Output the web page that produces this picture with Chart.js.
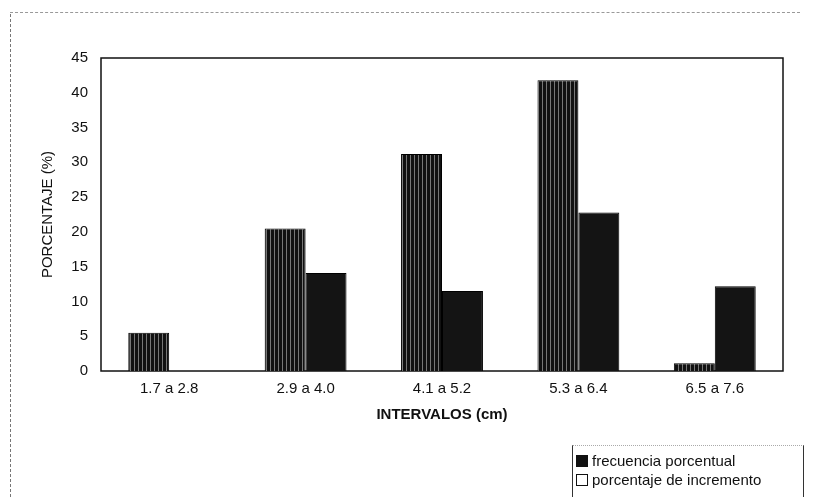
<!DOCTYPE html>
<html>
<head>
<meta charset="utf-8">
<script src="https://cdn.jsdelivr.net/npm/chart.js@4.4.1/dist/chart.umd.min.js"></script>
<style>
    html, body { margin: 0; padding: 0; background: #fff; }
    #wrap { position: relative; width: 815px; height: 497px; overflow: hidden; }
    #frameLeft { position: absolute; left: 10px; top: 14px; width: 0; height: 483px; border-left: 1px dashed #777; }
    #frameTop { position: absolute; left: 10px; top: 12px; width: 790px; height: 0; border-top: 1px dashed #999; }
    #legend {
        position: absolute; left: 572px; top: 445px; width: 232px; height: 60px;
        border-left: 1px solid #333; border-right: 1px solid #333; border-top: 1px dotted #aaa;
        font-family: "Liberation Sans", Arial, sans-serif; font-size: 15px; color: #111;
        padding-top: 5px; box-sizing: border-box;
    }
    #legend div { height: 19px; line-height: 19px; white-space: nowrap; }
    #legend span.box { display: inline-block; width: 10px; height: 10px; margin: 0 4px 0 3px; vertical-align: -1px; border: 1px solid #111; }
</style>
</head>
<body>
<div id="wrap">
    <canvas id="barChart" width="815" height="497"></canvas>
    <div id="frameLeft"></div>
    <div id="frameTop"></div>
    <div id="legend"></div>
</div>
<script>
// data
const intervalos = ['1.7 a 2.8', '2.9 a 4.0', '4.1 a 5.2', '5.3 a 6.4', '6.5 a 7.6'];
const frecuenciaPorcentual = [5.5, 20.5, 31.2, 41.8, 1.1];
const porcentajeIncremento = [0, 14.1, 11.5, 22.8, 12.2];
const yTicks = [0, 5, 10, 15, 20, 25, 30, 35, 40, 45];

// vertical striped fill for the first series (scanned hatch look)
function stripePattern() {
    const c = document.createElement('canvas');
    c.width = 4; c.height = 4;
    const g = c.getContext('2d');
    g.fillStyle = '#111';
    g.fillRect(0, 0, 4, 4);
    g.fillStyle = '#777';
    g.fillRect(2, 0, 1, 4);
    return g.createPattern(c, 'repeat');
}

// box around the plot area
const plotFrame = {
    id: 'plotFrame',
    beforeDatasetsDraw(chart) {
        const a = chart.chartArea;
        const ctx = chart.ctx;
        ctx.save();
        ctx.strokeStyle = '#111';
        ctx.lineWidth = 1.5;
        ctx.strokeRect(a.left, a.top, a.right - a.left, a.bottom - a.top);
        ctx.restore();
    }
};

const font = { family: '"Liberation Sans", Arial, sans-serif', size: 15 };

const chart = new Chart(document.getElementById('barChart').getContext('2d'), {
    type: 'bar',
    data: {
        labels: intervalos,
        datasets: [{
            label: 'frecuencia porcentual',
            data: frecuenciaPorcentual,
            backgroundColor: stripePattern(),
            borderColor: '#000',
            borderWidth: 1,
            categoryPercentage: 0.6,
            barPercentage: 1
        }, {
            label: 'porcentaje de incremento',
            data: porcentajeIncremento,
            backgroundColor: '#141414',
            borderColor: '#000',
            borderWidth: 1,
            categoryPercentage: 0.6,
            barPercentage: 1
        }]
    },
    options: {
        responsive: false,
        animation: false,
        layout: { padding: { left: 35, top: 58, right: 32, bottom: 71 } },
        plugins: {
            legend: { display: false },
            tooltip: { enabled: false }
        },
        scales: {
            x: {
                grid: { display: false, drawTicks: false },
                border: { display: false },
                ticks: { color: '#111', font: font, padding: 9 },
                title: { display: true, text: 'INTERVALOS (cm)', color: '#111', font: { family: font.family, size: 15, weight: 'bold' }, padding: { top: 12, bottom: 2 } },
                afterFit(scale) { scale.height = 55; }
            },
            y: {
                min: 0,
                max: 45,
                grid: { display: false, drawTicks: false },
                border: { display: false },
                afterBuildTicks(scale) { scale.ticks = yTicks.map(v => ({ value: v })); },
                ticks: { color: '#111', font: font, padding: 13 },
                title: { display: true, text: 'PORCENTAJE (%)', color: '#111', font: font, padding: { top: 4, bottom: 4 } },
                afterFit(scale) { scale.width = 66; }
            }
        }
    },
    plugins: [plotFrame]
});

// html legend built from the datasets
const legend = document.getElementById('legend');
chart.data.datasets.forEach((ds, i) => {
    const row = document.createElement('div');
    const box = document.createElement('span');
    box.className = 'box';
    box.style.background = i === 0 ? '#111' : '#fff';
    row.appendChild(box);
    row.appendChild(document.createTextNode(ds.label));
    legend.appendChild(row);
});
</script>
</body>
</html>
